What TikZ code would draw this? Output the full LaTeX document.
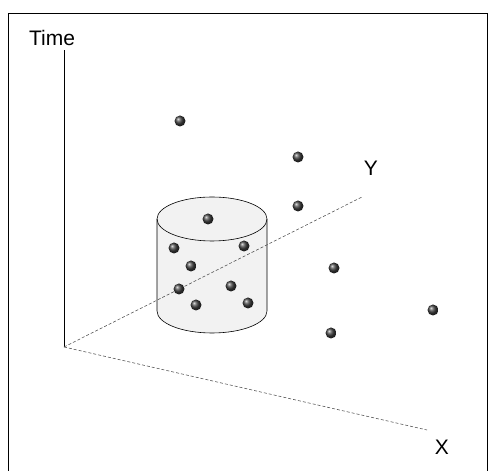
\documentclass[tikz,border=0pt]{standalone}
\usepackage{fontspec}
\setmainfont{Liberation Sans}
\usetikzlibrary{positioning}

\tikzset{
  axislabel/.style={inner sep=0pt, font=\fontsize{21}{24}\selectfont},
  databall/.style={circle, inner sep=0pt, minimum size=11pt, shading=ball, ball color=black!75},
  dimaxis/.style={densely dashed, gray!60!black, line width=0.55pt}
}

\begin{document}
\begin{tikzpicture}[x=1pt, y=1pt]
    \useasboundingbox (0,0) rectangle (488,471);
    \clip (0,0) rectangle (488,471);
    % frame
    \draw[line width=1pt] (8,-5) rectangle (487,457);

    % cylinder (query region)
    \fill[gray!10] (157,252) -- (157,160) arc[start angle=180, end angle=360, x radius=55, y radius=22]
          -- (267,252) arc[start angle=0, end angle=180, x radius=55, y radius=22] -- cycle;
    \draw[line width=0.6pt] (157,252) -- (157,160) arc[start angle=180, end angle=360, x radius=55, y radius=22]
          -- (267,252);
    \draw[line width=0.6pt] (212,252) ellipse[x radius=55, y radius=22];

    % axes
    \coordinate (origin) at (64,124);
    \coordinate (timeend) at (64,421);
    \coordinate (xend) at (427,41);
    \coordinate (yend) at (362,274);
    \node[axislabel] (timelabel) at (52,433) {Time};
    \node[axislabel] (xlabel) at (442,24) {X};
    \node[axislabel] (ylabel) at (371,303) {Y};
    \draw[line width=0.6pt] (origin) -- (timeend);
    \draw[dimaxis] (origin) -- (xend);
    \draw[dimaxis] (origin) -- (yend);

    % data points
    \foreach \px/\py [count=\i] in {180/350, 298/314, 298/265, 208/252, 174/223, 244/225,
                                  191/205, 334/203, 179/182, 231/185, 196/166, 248/168,
                                  433/161, 331/138}
      \node[databall] (p\i) at (\px,\py) {};
\end{tikzpicture}
\end{document}
